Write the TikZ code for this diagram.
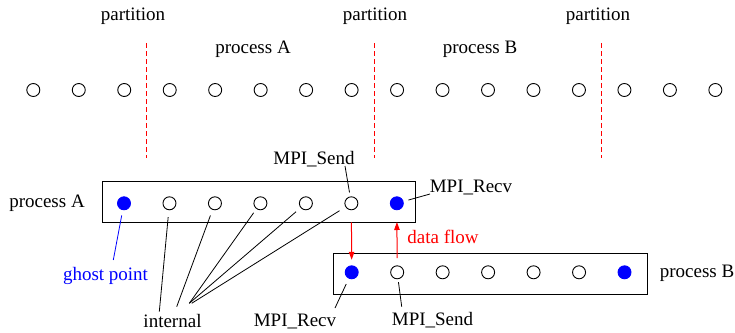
\documentclass[tikz,border=0pt]{standalone}
\usepackage{fontspec}
\setmainfont{Liberation Serif}
\newfontfamily\timesfam{Liberation Serif}
\usetikzlibrary{arrows.meta}
\begin{document}
\begin{tikzpicture}[x=1pt,y=-1pt,
  every node/.style={font=\timesfam\fontsize{19}{22}\selectfont},
  pt/.style={circle,draw=black,line width=0.9pt,minimum size=13pt,inner sep=0pt,outer sep=0.5pt},
  ghostpt/.style={pt,draw=blue,fill=blue},
  lbl/.style={inner sep=1pt},
  partline/.style={red,dash pattern=on 5pt off 3pt,line width=1pt},
  procbox/.style={draw=black,line width=0.9pt,minimum width=313pt,minimum height=41pt,inner sep=0pt},
  annot/.style={black,line width=0.8pt},
  flow/.style={red,line width=1pt,-{Triangle[length=8pt,width=5.5pt]}}]
\useasboundingbox (0,0) rectangle (735,332);
% top row
\foreach \i in {1,...,16}{
  \node[pt] (t\i) at ({33.3+45.47*(\i-1)},90) {};
}
% partition lines
\foreach \x/\n in {146.7/p1,374.3/p2,601.7/p3}{
  \coordinate (\n top) at (\x,43);
  \coordinate (\n bot) at (\x,158);
  \draw[partline] (\n top) -- (\n bot);
}
\node[lbl] (part1) at (133,16) {partition};
\node[lbl] (part2) at (375,16) {partition};
\node[lbl] (part3) at (598,16) {partition};
\node[lbl] (topA) at (253,49) {process A};
\node[lbl] (topB) at (480,49) {process B};
% boxes
\node[procbox] (boxA) at (258.5,201.5) {};
\node[procbox,minimum width=314pt] (boxB) at (490.3,273.8) {};
\node[lbl] (labA) at (47,203) {process A};
\node[lbl] (labB) at (697,273) {process B};
% points in box A
\foreach \i in {1,...,7}{
  \pgfmathsetmacro{\xx}{124+45.47*(\i-1)}
  \ifnum\i=1 \node[ghostpt] (a\i) at (\xx,203.3) {};
  \else\ifnum\i=7 \node[ghostpt] (a\i) at (\xx,203.3) {};
  \else \node[pt] (a\i) at (\xx,203.3) {};
  \fi\fi
}
% points in box B
\foreach \i in {1,...,7}{
  \pgfmathsetmacro{\xx}{351.7+45.47*(\i-1)}
  \ifnum\i=1 \node[ghostpt] (b\i) at (\xx,272.3) {};
  \else\ifnum\i=7 \node[ghostpt] (b\i) at (\xx,272.3) {};
  \else \node[pt] (b\i) at (\xx,272.3) {};
  \fi\fi
}
% data flow arrows
\draw[flow,shorten <=12pt,shorten >=5.5pt] (a6) -- (b1);
\draw[flow,shorten <=7.3pt,shorten >=11.7pt] (b2) -- (a7);
\node[lbl,text=red] (dflow) at (443,237) {data flow};
% ghost point
\node[lbl,text=blue] (ghost) at (105.5,276) {ghost point};
\coordinate (ghostend) at (113.3,260);
\draw[blue,line width=0.8pt,shorten <=5.4pt] (a1) -- (ghostend);
% internal
\node[lbl] (intl) at (172.5,321) {internal};
\coordinate (i1) at (159.3,311.7);
\coordinate (i2) at (176.7,306.7);
\coordinate (i3) at (189.3,303.3);
\coordinate (i4) at (191.7,303.3);
\draw[annot,shorten <=6.8pt] (a2) -- (i1);
\draw[annot,shorten <=6pt] (a3) -- (i2);
\draw[annot,shorten <=4.7pt] (a4) -- (i3);
\draw[annot,shorten <=6pt] (a5) -- (i3);
\draw[annot,shorten <=7pt] (a6) -- (i4);
% MPI labels
\node[lbl] (sendA) at (314,159) {MPI\_Send};
\coordinate (sendAst) at (345,166);
\draw[annot,shorten >=4pt] (sendAst) -- (a6);
\node[lbl] (recvA) at (471,188) {MPI\_Recv};
\coordinate (recvAst) at (430,194);
\draw[annot,shorten <=5pt] (a7) -- (recvAst);
\node[lbl] (recvB) at (295,321) {MPI\_Recv};
\coordinate (recvBend) at (335,308);
\draw[annot,shorten <=6pt] (b1) -- (recvBend);
\node[lbl] (sendB) at (432.5,320) {MPI\_Send};
\coordinate (sendBend) at (401.7,306.7);
\draw[annot,shorten <=3pt] (b2) -- (sendBend);
\end{tikzpicture}
\end{document}
